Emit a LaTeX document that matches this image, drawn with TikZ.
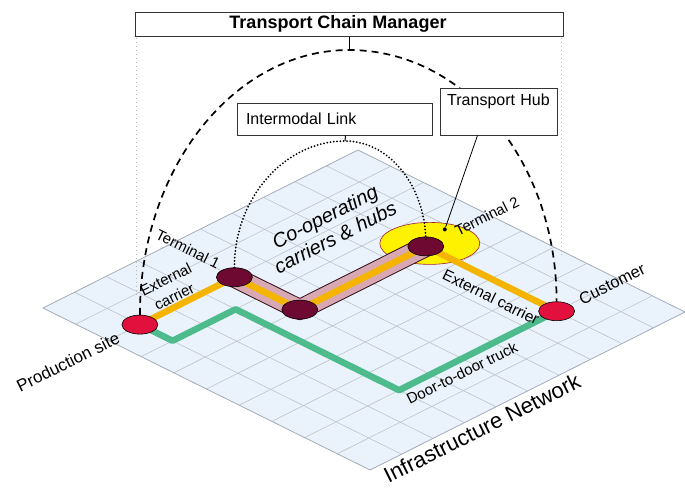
\documentclass[tikz,border=0pt]{standalone}
\usepackage{fontspec}
\setmainfont{Liberation Sans}
\usetikzlibrary{shapes.geometric}

\definecolor{planefill}{HTML}{EAF2FB}
\definecolor{gridgray}{HTML}{BCC3CB}
\definecolor{edgegray}{HTML}{A4ABB3}
\definecolor{sitered}{HTML}{E2103C}
\definecolor{termmaroon}{HTML}{6E0A32}
\definecolor{carrierorange}{HTML}{F4B400}
\definecolor{truckgreen}{HTML}{4DBB8C}
\definecolor{bandpink}{HTML}{D9A9B3}
\definecolor{bandedge}{HTML}{3A1020}
\definecolor{hubyellow}{HTML}{FFF200}
\definecolor{hubedge}{HTML}{A0203C}

\pgfdeclarelayer{planelayer}
\pgfdeclarelayer{routelayer}
\pgfsetlayers{planelayer,routelayer,main}

\begin{document}
\begin{tikzpicture}[x=1pt,y=-1pt,
  site/.style={ellipse, draw=black, line width=0.6pt, fill=sitered,
    minimum width=36pt, minimum height=19pt, inner sep=0pt},
  terminal/.style={site, fill=termmaroon},
  box/.style={draw=black!80, line width=1pt, fill=white, inner sep=0pt},
  lbl/.style={font=\fontsize{15}{18}\selectfont, inner sep=0pt},
  route/.style={line width=6.5pt, line join=round},
  greenroute/.style={route, draw=truckgreen},
  orangeroute/.style={route, draw=carrierorange},
  managerarc/.style={line width=1.7pt, dash pattern=on 7pt off 5pt},
  linkarc/.style={line width=2pt, dash pattern=on 0pt off 3.3pt, line cap=round},
  guide/.style={draw=gray!55, line width=0.8pt, dash pattern=on 1pt off 3pt},
  gridline/.style={draw=gridgray, line width=0.6pt},
  planeedge/.style={draw=edgegray, line width=0.8pt}
]
\useasboundingbox (0,0) rectangle (685,488);

% infrastructure plane, 10 x 10 cells, skewed grid
\begin{scope}[shift={(43pt,-308pt)}, x={(31.5pt,15.8pt)}, y={(32.7pt,-16.2pt)}]
  \begin{pgfonlayer}{planelayer}
    \fill[white] (-2,-2) rectangle (1,1);
    \fill[planefill] (0,0) -- (10,0) -- (10,10) -- (0,10) -- cycle;
    \foreach \i in {1,...,9} {
      \draw[gridline] (\i,0) -- (\i,10);
      \draw[gridline] (0,\i) -- (10,\i);
    }
    \draw[planeedge] (0,0) -- (10,0) -- (10,10) -- (0,10) -- cycle;
  \end{pgfonlayer}
  % truck route corners
  \coordinate (g1) at (1,3);
  \coordinate (g2) at (3,3);
  \coordinate (g3) at (3,8);
  % sites and terminals
  \node[site] (P) at (1,2) {};
  \node[terminal] (T1) at (4,2) {};
  \node[terminal] (T1b) at (4,4) {};
  \node[terminal] (T2) at (8,4) {};
  \node[site] (C) at (8,8) {};
\end{scope}

\node[circle, fill=black, inner sep=0pt, minimum size=4pt] (hd) at ([xshift=19pt,yshift=17pt]T2.center) {};

% routes below the nodes
\begin{pgfonlayer}{routelayer}
  \draw[greenroute] (P.center) -- (g1) -- (g2) -- (g3) -- (C.center);
  \filldraw[fill=hubyellow, draw=hubedge, line width=0.6pt]
    ([xshift=4pt,yshift=3pt]T2.center) ellipse [x radius=50, y radius=21];
  \draw[line width=21pt, line join=round, draw=bandedge] (T1.center) -- (T1b.center) -- (T2.center);
  \draw[line width=19pt, line join=round, draw=bandpink] (T1.center) -- (T1b.center) -- (T2.center);
  \draw[orangeroute] (T1.center) -- (T1b.center) -- (T2.center);
  \draw[orangeroute] (P.center) -- (T1.center);
  \draw[orangeroute] (T2.center) -- (C.center);
\end{pgfonlayer}

% manager and link boxes
\node[box, minimum width=428pt, minimum height=24pt,
  font=\bfseries\fontsize{18}{20}\selectfont] (tcm) at (349,24) {\hspace*{-22pt}Transport Chain Manager};

\draw[guide] (tcm.south west) ++(2,1) -- ++(0,260);
\draw[guide] (tcm.south east) ++(-2,1) -- ++(0,220);

\coordinate (arcpeak) at (349,50);
\draw[line width=1pt] (tcm.south) -- (arcpeak);
\draw[managerarc] (P.north) .. controls +(0,-146) and +(-115,0) .. (arcpeak)
  .. controls +(116,0) and +(0,-139) .. (C.north);

\coordinate (linkpeak) at (345,141);
\draw[linkarc] (T1.north) .. controls +(0,-70) and +(-60,0) .. (linkpeak)
  .. controls +(46,0) and +(0,-53) .. ([yshift=-5pt]T2.north);

\node[box, minimum width=195pt, minimum height=32pt, text width=177pt, align=left,
  inner xsep=9pt, font=\fontsize{16}{18}\selectfont] (link) at (334.5,119) {Intermodal Link};
\draw[line width=1pt] ([xshift=11pt]link.south) -- (linkpeak);

\node[box, minimum width=117pt, text width=105pt, align=center, inner xsep=6pt,
  text height=11pt, text depth=24pt, inner ysep=6pt,
  font=\fontsize{16}{18}\selectfont] (hub) at (498.5,111.5) {Transport Hub};
\draw[line width=0.8pt] ([xshift=-21pt]hub.south) -- (hd);

% labels on the plane
\node[lbl, rotate=26.5, font=\fontsize{17}{20}\selectfont] (lp) at (68,362) {Production site};
\node[lbl, rotate=26.5, align=center, font=\fontsize{15}{19}\selectfont] (lec1) at (170,288) {External\\carrier};
\node[lbl, rotate=-26.2] (lt1) at (188,249) {Terminal 1};
\node[lbl, rotate=27, align=center, font=\itshape\fontsize{20}{23}\selectfont] (lco) at (330,227) {Co-operating\\carriers \& hubs};
\node[lbl, rotate=26.5] (lt2) at (487,216) {Terminal 2};
\node[lbl, rotate=-26.2, font=\fontsize{15.5}{18}\selectfont] (lec2) at (491,297) {External carrier};
\node[lbl, rotate=26.5, font=\fontsize{16.5}{18}\selectfont] (lcu) at (612,284) {Customer};
\node[lbl, rotate=26.5] (ltr) at (462,373) {Door-to-door truck};
\node[lbl, rotate=26.5, font=\fontsize{22}{24}\selectfont] (lin) at (482,428) {Infrastructure Network};
\end{tikzpicture}
\end{document}
